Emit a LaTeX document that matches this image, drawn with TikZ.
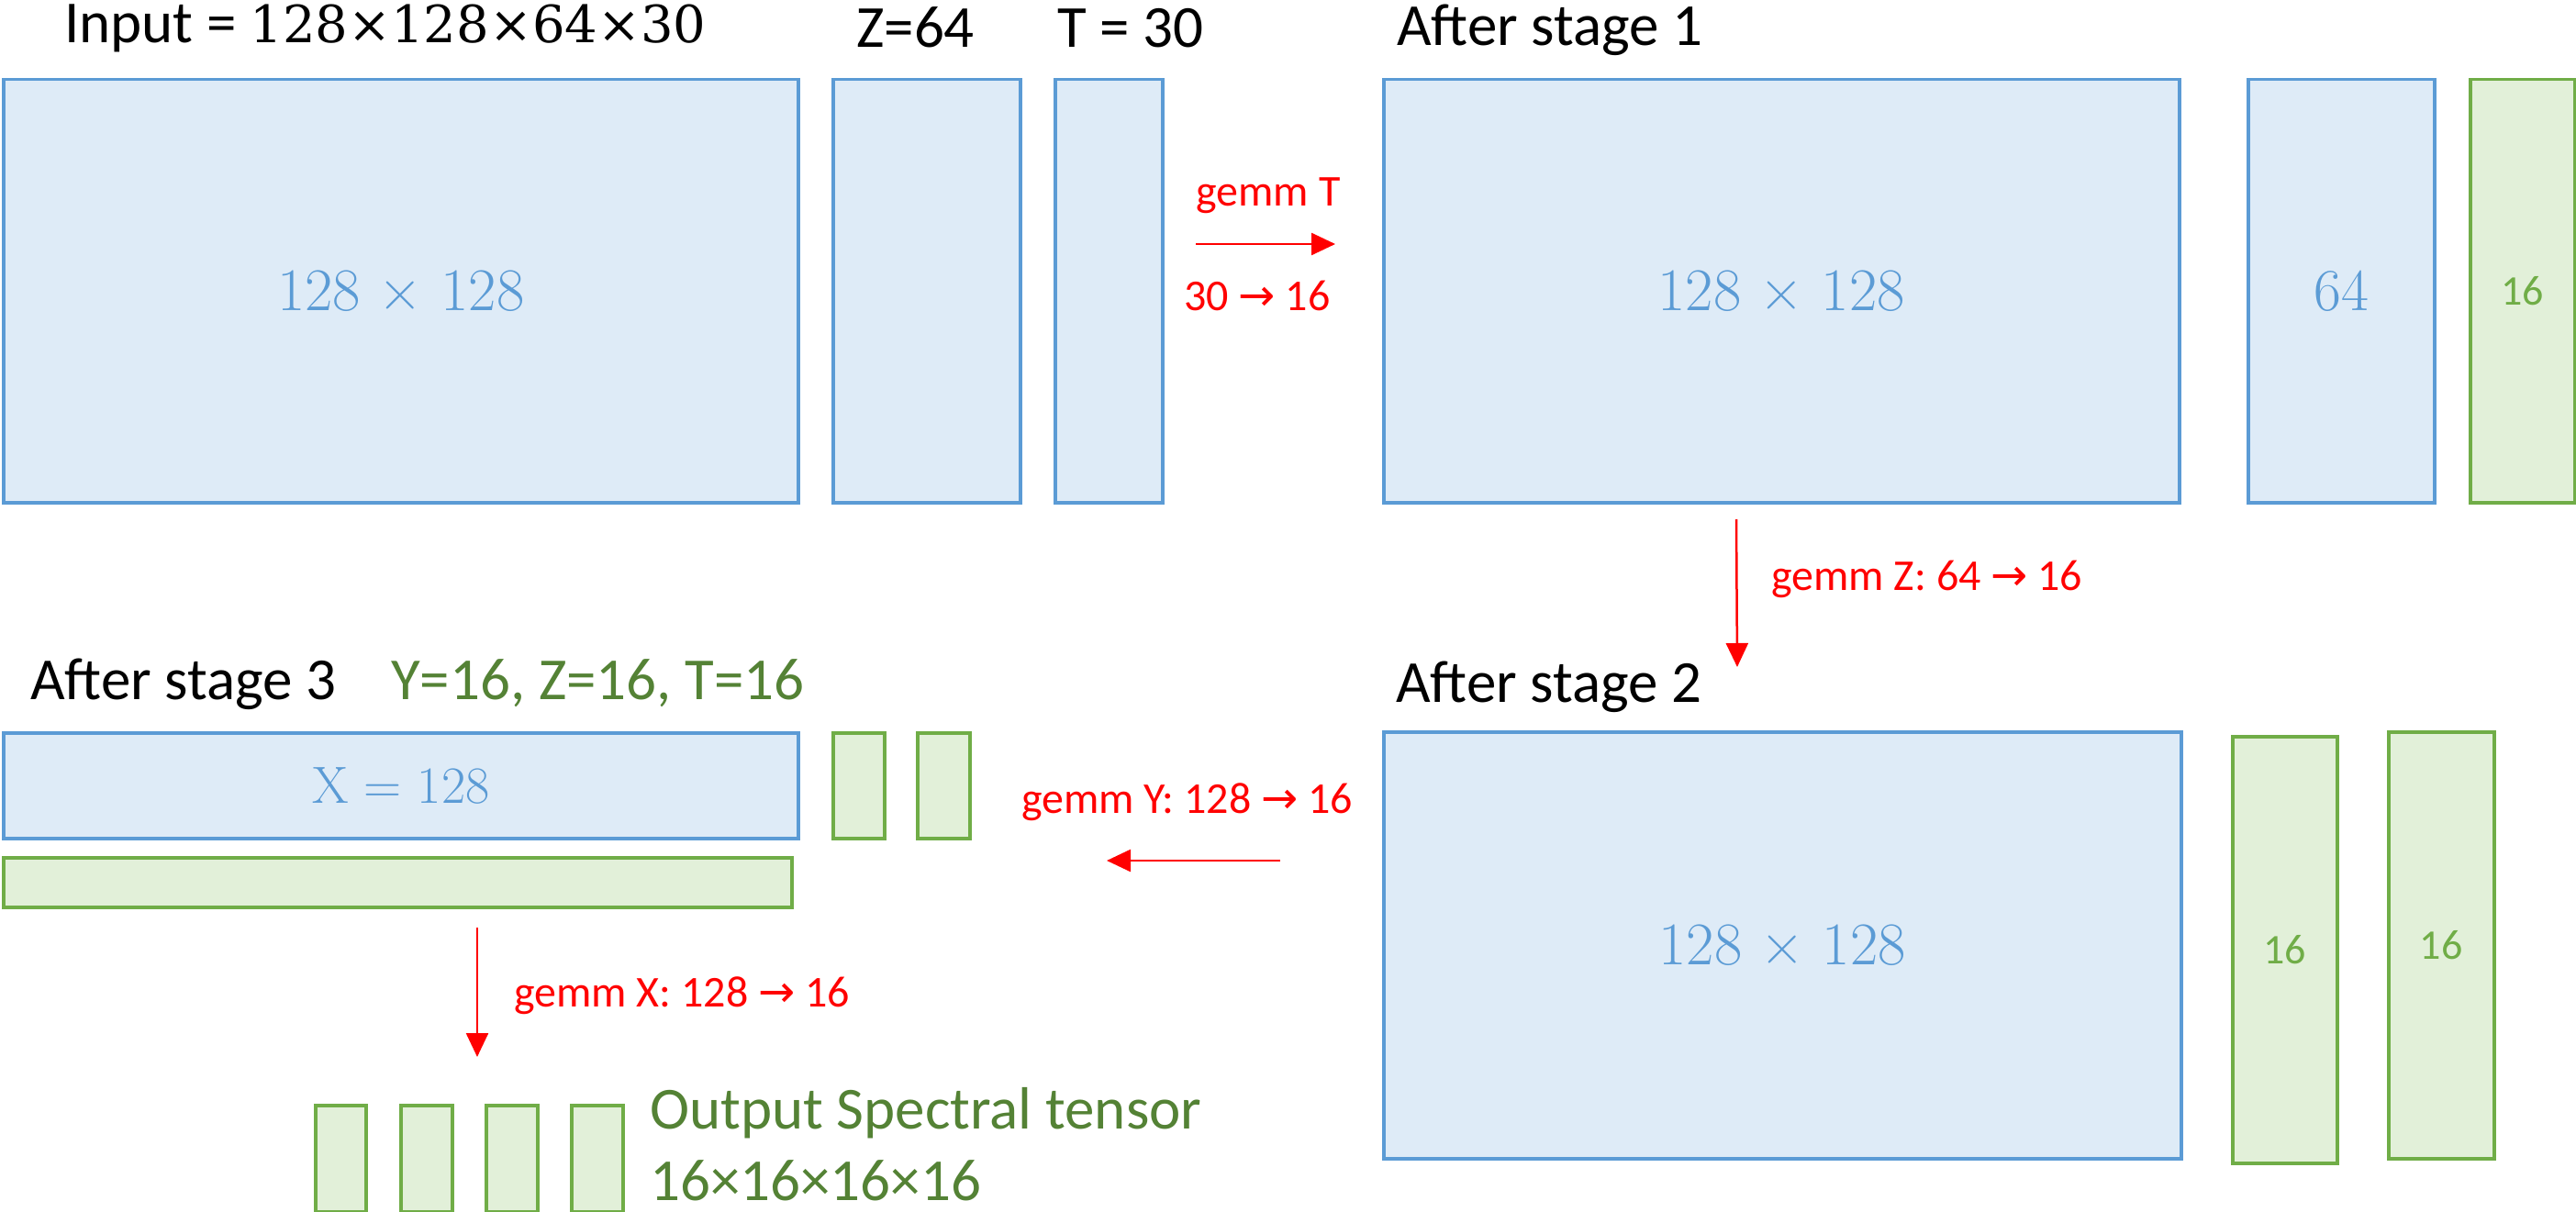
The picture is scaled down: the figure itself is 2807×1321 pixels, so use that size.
\documentclass[tikz,border=0pt]{standalone}
\usepackage{fontspec}
\setmainfont{Carlito}
\newfontfamily\lmr{Latin Modern Roman}
\newfontfamily\djv{DejaVu Sans}
\newfontfamily\djvserif{DejaVu Serif}
\usetikzlibrary{arrows.meta}
\definecolor{bfill}{RGB}{222,235,247}
\definecolor{bline}{RGB}{91,155,213}
\definecolor{gfill}{RGB}{226,240,217}
\definecolor{gline}{RGB}{112,173,71}
\definecolor{gtext}{RGB}{84,130,53}
\tikzset{
  boxbase/.style={rectangle, inner sep=0pt, line width=3.5pt, anchor=north west},
  bluebox/.style={boxbase, draw=bline, fill=bfill, text=bline, font=\lmr\fontsize{66}{70}\selectfont},
  greenbox/.style={boxbase, draw=gline, fill=gfill, text=gline, font=\fontsize{46}{50}\selectfont},
  titletext/.style={inner sep=0pt, anchor=base west, font=\fontsize{65}{70}\selectfont},
  redlbl/.style={inner sep=0pt, text=red, font=\fontsize{48}{52}\selectfont},
  redarrow/.style={draw=red, line width=2.5pt, -{Triangle[length=26pt,width=24pt]}}
}
\newcommand{\rarr}{{\djv →}}
\begin{document}
\begin{tikzpicture}[x=1pt,y=-1pt]
\useasboundingbox (0,0) rectangle (2807,1321);
% input
\node[bluebox, minimum width=866pt, minimum height=461pt] (in1) at (2,85) {128 × 128};
\node[bluebox, minimum width=204pt, minimum height=461pt] (inZ) at (906,85) {};
\node[bluebox, minimum width=117pt, minimum height=461pt] (inT) at (1148,85) {};
\node[titletext] (tIn) at (70,47) {Input = {\djvserif\fontsize{56}{60}\selectfont 128×128×64×30}};
\node[titletext] (tZ) at (933,52) {Z=64};
\node[titletext] (tT) at (1152,52) {T = 30};
% stage 1
\node[bluebox, minimum width=867pt, minimum height=461pt] (s1a) at (1506,85) {128 × 128};
\node[bluebox, minimum width=203pt, minimum height=461pt, font=\lmr\fontsize{65}{70}\selectfont] (s1b) at (2448,85) {64};
\node[greenbox, minimum width=114pt, minimum height=461pt] (s1c) at (2690,85) {16};
\node[titletext] (tS1) at (1522,50) {After stage 1};
% stage 2
\node[bluebox, minimum width=869pt, minimum height=465pt] (s2a) at (1506,796) {128 × 128};
\node[greenbox, minimum width=114pt, minimum height=465pt] (s2b) at (2431,801) {16};
\node[greenbox, minimum width=115pt, minimum height=465pt] (s2c) at (2601,796) {16};
\node[titletext] (tS2) at (1521,765) {After stage 2};
% stage 3
\node[bluebox, minimum width=866pt, minimum height=115pt, font=\lmr\fontsize{57}{60}\selectfont] (s3a) at (2,797) {X = 128};
\node[greenbox, minimum width=56pt, minimum height=115pt] (s3b) at (906,797) {};
\node[greenbox, minimum width=57pt, minimum height=115pt] (s3c) at (998,797) {};
\node[greenbox, minimum width=859pt, minimum height=54pt] (s3d) at (2,933) {};
\node[titletext] (tS3) at (33,762) {After stage 3};
\node[titletext, text=gtext] (tYZT) at (426,762) {Y=16, Z=16, T=16};
% output
\node[greenbox, minimum width=55pt, minimum height=116pt] (o1) at (342,1203) {};
\node[greenbox, minimum width=56pt, minimum height=116pt] (o2) at (435,1203) {};
\node[greenbox, minimum width=56pt, minimum height=116pt] (o3) at (528,1203) {};
\node[greenbox, minimum width=56pt, minimum height=116pt] (o4) at (621,1203) {};
\node[titletext, text=gtext] (tO1) at (708,1230) {Output Spectral tensor};
\node[titletext, text=gtext] (tO2) at (708,1308) {16×16×16×16};
% arrows
\coordinate (a1) at (1303,266);
\coordinate (a2) at (1455,266);
\coordinate (z1) at (1892,566);
\coordinate (z2) at (1893,727);
\coordinate (y1) at (1395,938);
\coordinate (y2) at (1206,938);
\coordinate (x1) at (520,1011);
\coordinate (x2) at (520,1152);
\draw[redarrow] (a1) -- (a2);
\draw[redarrow] (z1) -- (z2);
\draw[redarrow] (y1) -- (y2);
\draw[redarrow] (x1) -- (x2);
\node[redlbl, anchor=base] (lT1) at (1382,225) {gemm T};
\node[redlbl, anchor=base] (lT2) at (1370,338) {30 \rarr{} 16};
\node[redlbl, anchor=base west] (lZ) at (1930,643) {gemm Z: 64 \rarr{} 16};
\node[redlbl, anchor=base west] (lY) at (1113,886) {gemm Y: 128 \rarr{} 16};
\node[redlbl, anchor=base west] (lX) at (560,1097) {gemm X: 128 \rarr{} 16};
\end{tikzpicture}
\end{document}
